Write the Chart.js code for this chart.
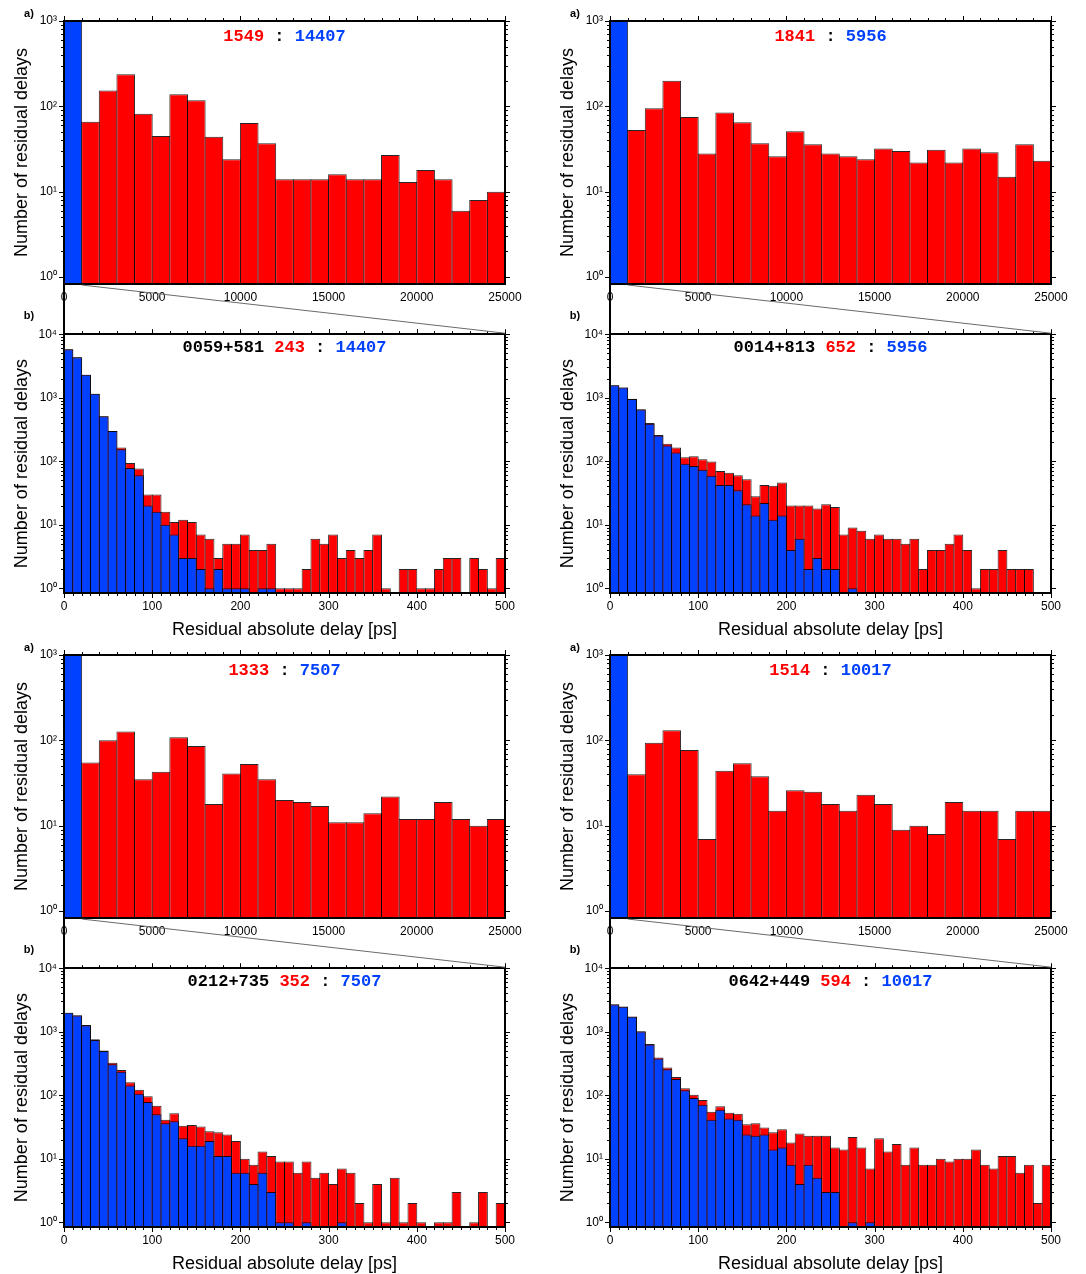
<!DOCTYPE html>
<html>
<head>
<meta charset="utf-8">
<script src="https://cdn.jsdelivr.net/npm/chart.js@4.4.1/dist/chart.umd.min.js"></script>
<style>
  html, body { margin: 0; padding: 0; background: #fff; }
  #page { position: relative; width: 1086px; height: 1274px; overflow: hidden; background: #fff; }
  #page canvas { position: absolute; }
</style>
</head>
<body>
<div id="page"></div>
<script>
// ---------------- data ----------------
const sourceNames   = ['0059+581', '0014+813', '0212+735', '0642+449'];
const outliersWide  = [1549, 1841, 1333, 1514];   // red total, full range
const outliersZoom  = [243, 652, 352, 594];       // red total, 0-500 ps
const goodDelays    = [14407, 5956, 7507, 10017]; // blue total

// bin centres [ps]
const wideBinCentres = [500, 1500, 2500, 3500, 4500, 5500, 6500, 7500, 8500, 9500,
  10500, 11500, 12500, 13500, 14500, 15500, 16500, 17500, 18500, 19500,
  20500, 21500, 22500, 23500, 24500];
const zoomBinCentres = [5, 15, 25, 35, 45, 55, 65, 75, 85, 95,
  105, 115, 125, 135, 145, 155, 165, 175, 185, 195,
  205, 215, 225, 235, 245, 255, 265, 275, 285, 295,
  305, 315, 325, 335, 345, 355, 365, 375, 385, 395,
  405, 415, 425, 435, 445, 455, 465, 475, 485, 495];

// tick labels
const wideTickLabels   = [0, 5000, 10000, 15000, 20000, 25000];
const zoomTickLabels   = [0, 100, 200, 300, 400, 500];
const wideCountDecades = [1, 10, 100, 1000];
const zoomCountDecades = [1, 10, 100, 1000, 10000];
const firstWideBinEdge = 1000;

// 0059+581
const wideAll_0059  = [null, 66, 153, 238, 82, 45, 139, 118, 44, 24, 64, 37, 14, 14, 14, 16, 14, 14, 27, 13, 18, 14, 6, 8, 10];
const wideGood_0059 = [14407];
const zoomAll_0059  = [5790, 4350, 2290, 1150, 512, 300, 164, 94, 77, 30,
  30, 16, 11, 12, 11, 7, 6, 3, 5, 5,
  7, 4, 4, 5, 1, 1, 1, 2, 6, 5,
  7, 3, 4, 3, 4, 7, 1, null, 2, 2,
  1, 1, 2, 3, 3, null, 3, 2, 1, 3];
const zoomGood_0059 = [5790, 4350, 2290, 1150, 512, 300, 154, 78, 60, 20,
  16, 10, 7, 3, 3, 2, 1, 2, 1, 1,
  1, null, 1, 1];

// 0014+813
const wideAll_0014  = [null, 53, 95, 200, 75, 28, 85, 65, 37, 26, 51, 36, 28, 26, 24, 32, 30, 22, 31, 22, 32, 29, 15, 36, 23];
const wideGood_0014 = [5956];
const zoomAll_0014  = [1575, 1450, 960, 660, 400, 258, 189, 164, 115, 120,
  107, 99, 70, 66, 60, 52, 28, 42, 41, 46,
  20, 20, 20, 18, 21, 19, 7, 9, 8, 6,
  7, 6, 6, 5, 6, 2, 4, 4, 5, 7,
  4, 1, 2, 2, 4, 2, 2, 2, null, null];
const zoomGood_0014 = [1567, 1442, 951, 650, 390, 254, 176, 137, 91, 84,
  73, 59, 42, 42, 35, 21, 14, 22, 12, 14,
  4, 6, 2, 3, 2, 2, null, 1];

// 0212+735
const wideAll_0212  = [null, 55, 100, 127, 35, 43, 109, 86, 18, 41, 53, 35, 20, 19, 17, 11, 11, 14, 22, 12, 12, 19, 12, 10, 12];
const wideGood_0212 = [7507];
const zoomAll_0212  = [1990, 1820, 1280, 760, 505, 324, 250, 160, 122, 96,
  68, 41, 52, 33, 34, 32, 27, 26, 24, 19,
  10, 8, 13, 11, 9, 9, 6, 9, 5, 6,
  4, 7, 6, 2, 1, 4, 1, 5, 1, 2,
  1, null, 1, 1, 3, null, 1, 3, null, 2];
const zoomGood_0212 = [1980, 1800, 1262, 741, 496, 306, 233, 142, 105, 78,
  50, 36, 39, 21, 16, 16, 19, 11, 11, 6,
  6, 4, 6, 3, 1, 1, null, 1, null, null,
  null, 1];

// 0642+449
const wideAll_0642  = [null, 40, 94, 131, 77, 7, 44, 54, 38, 15, 26, 25, 18, 15, 23, 18, 9, 10, 8, 19, 15, 15, 7, 15, 15];
const wideGood_0642 = [10017];
const zoomAll_0642  = [2700, 2500, 1730, 1020, 640, 392, 272, 193, 129, 102,
  84, 55, 67, 53, 51, 35, 36, 31, 26, 29,
  18, 25, 23, 23, 23, 15, 14, 22, 15, 7,
  21, 13, 17, 8, 15, 8, 8, 10, 9, 10,
  10, 14, 8, 7, 11, 11, 6, 8, 2, 8];
const zoomGood_0642 = [2690, 2480, 1718, 1009, 628, 378, 256, 180, 120, 90,
  71, 41, 59, 43, 41, 24, 23, 24, 14, 15,
  8, 4, 8, 5, 3, 3, null, 1, null, 1];

const wideAll  = [wideAll_0059, wideAll_0014, wideAll_0212, wideAll_0642];
const wideGood = [wideGood_0059, wideGood_0014, wideGood_0212, wideGood_0642];
const zoomAll  = [zoomAll_0059, zoomAll_0014, zoomAll_0212, zoomAll_0642];
const zoomGood = [zoomGood_0059, zoomGood_0014, zoomGood_0212, zoomGood_0642];

// ---------------- style ----------------
const RED = '#ff0000';
const BLUE = '#0040ff';
const SANS = '"Liberation Sans", Arial, Helvetica, sans-serif';
const MONO = '"Liberation Mono", "Courier New", monospace';
Chart.defaults.font.family = SANS;
Chart.defaults.color = '#000';

const SUP = { 0: '\u2070', 1: '\u00B9', 2: '\u00B2', 3: '\u00B3', 4: '\u2074' };
const decadeLabel = v => '10' + SUP[Math.round(Math.log10(v))];

// ---------------- plugins ----------------
// coloured headline centred above the bars
const headline = {
  id: 'headline',
  afterDatasetsDraw(chart, args, o) {
    const { ctx, chartArea: a } = chart;
    ctx.save();
    ctx.font = 'bold 17px ' + MONO;
    ctx.textBaseline = 'middle';
    ctx.textAlign = 'left';
    const total = o.parts.reduce((s, p) => s + ctx.measureText(p.text).width, 0);
    let x = (a.left + a.right) / 2 - total / 2;
    const y = a.top + o.offset;
    o.parts.forEach(p => {
      ctx.fillStyle = p.color;
      ctx.fillText(p.text, x, y);
      x += ctx.measureText(p.text).width;
    });
    ctx.restore();
  }
};

// outward tick marks on all four sides of the frame
const frameTicks = {
  id: 'frameTicks',
  afterDraw(chart, args, o) {
    const { ctx, chartArea: a, scales } = chart;
    const yPix = v => Math.round(scales.y.getPixelForValue(v)) + 0.5;
    const xPix = v => Math.round(scales.x.getPixelForValue(v)) + 0.5;
    ctx.save();
    ctx.strokeStyle = '#000';
    ctx.lineWidth = 1;
    ctx.beginPath();
    o.countTicks.forEach(t => {
      const py = yPix(t.value), len = t.major ? 4 : 2;
      ctx.moveTo(a.left - 1, py);  ctx.lineTo(a.left - 1 - len, py);
      ctx.moveTo(a.right + 1, py); ctx.lineTo(a.right + 1 + len, py);
    });
    o.topTicks.forEach(t => {
      const px = xPix(t.value), len = t.major ? 4 : 2;
      ctx.moveTo(px, a.top - 1); ctx.lineTo(px, a.top - 1 - len);
    });
    o.bottomTicks.forEach(t => {
      const px = xPix(t.value), len = t.major ? 4 : 2;
      ctx.moveTo(px, a.bottom + 1); ctx.lineTo(px, a.bottom + 1 + len);
    });
    ctx.stroke();
    ctx.restore();
  }
};

function countTickMarks(decades, max) {
  const out = [];
  decades.forEach(d => {
    out.push({ value: d, major: true });
    for (let k = 2; k <= 9; k++) if (k * d < max) out.push({ value: k * d, major: false });
  });
  return out;
}
function stepTickMarks(max, minor, major) {
  const out = [];
  for (let v = 0; v <= max + 1e-9; v += minor) out.push({ value: v, major: Math.abs(v / major - Math.round(v / major)) < 1e-9 });
  return out;
}

// ---------------- layout ----------------
const page = document.getElementById('page');
function addCanvas(left, top, w, h) {
  const c = document.createElement('canvas');
  c.width = w; c.height = h;
  Object.assign(c.style, { left: left + 'px', top: top + 'px', width: w + 'px', height: h + 'px' });
  page.appendChild(c);
  return c;
}

const columns = [{ left: 0, width: 543 }, { left: 546, width: 540 }];
const rowTops = [0, 634];
const PLOT_LEFT = 64, PLOT_RIGHT = 505;

function frameBorder() { return { display: true, color: '#000', width: 2, z: 1 }; }

function makePanel(kind, idx, col, top) {
  const wide = kind === 'wide';
  const h = wide ? 320 : 325;
  const topH = wide ? 21 : 10;
  const bottomH = wide ? 36 : 52;
  const xMax = wide ? 25000 : 500;
  const yMin = wide ? 0.83 : 0.84;
  const yMax = wide ? 1000 : 10000;
  const decades = wide ? wideCountDecades : zoomCountDecades;
  const tickLabels = wide ? wideTickLabels : zoomTickLabels;
  const centres = wide ? wideBinCentres : zoomBinCentres;
  const allVals = wide ? wideAll[idx] : zoomAll[idx];
  const goodVals = wide ? wideGood[idx] : zoomGood[idx];
  const binPx = (PLOT_RIGHT - PLOT_LEFT) / centres.length;
  const barPct = 1 + 1 / binPx;

  const canvas = addCanvas(col.left, top, col.width, h);
  const toPoints = vals => vals.map((v, i) => ({ x: centres[i], y: v }));

  const parts = wide
    ? [{ text: String(outliersWide[idx]), color: RED }, { text: ' : ', color: '#000' }, { text: String(goodDelays[idx]), color: BLUE }]
    : [{ text: sourceNames[idx] + ' ', color: '#000' }, { text: String(outliersZoom[idx]), color: RED },
       { text: ' : ', color: '#000' }, { text: String(goodDelays[idx]), color: BLUE }];

  const barStyle = {
    grouped: false, barPercentage: barPct, categoryPercentage: 1,
    borderColor: 'rgba(0,0,0,0.85)', borderWidth: { top: 1, left: 1, right: 1, bottom: 0 }, borderSkipped: 'bottom'
  };

  const chart = new Chart(canvas, {
    type: 'bar',
    data: {
      datasets: [
        Object.assign({ label: 'good', data: toPoints(goodVals), backgroundColor: BLUE, order: 0 }, barStyle),
        Object.assign({ label: 'all', data: toPoints(allVals), backgroundColor: RED, order: 1 }, barStyle)
      ]
    },
    options: {
      responsive: false, animation: false, devicePixelRatio: 1,
      layout: { padding: 0, autoPadding: false },
      plugins: {
        legend: { display: false }, tooltip: { enabled: false },
        headline: { parts, offset: wide ? 16 : 14 },
        frameTicks: {
          countTicks: countTickMarks(decades, yMax),
          topTicks: wide ? stepTickMarks(xMax, 1000, 5000) : stepTickMarks(xMax, 20, 100),
          bottomTicks: wide ? [] : stepTickMarks(xMax, 10, 100)
        }
      },
      scales: {
        x: {
          type: 'linear', position: 'bottom', min: 0, max: xMax, offset: false,
          grid: { display: false, drawTicks: false }, border: frameBorder(),
          ticks: { font: { size: 12 }, color: '#000', padding: 6, maxRotation: 0, minRotation: 0, autoSkip: false,
                   callback: v => String(v) },
          afterBuildTicks: s => { s.ticks = tickLabels.map(v => ({ value: v })); },
          afterFit: s => { s.height = bottomH; },
          title: { display: !wide, text: 'Residual absolute delay [ps]', color: '#000',
                   font: { size: 18 }, padding: { top: 0, bottom: 4 } }
        },
        x2: {
          type: 'linear', position: 'top', min: 0, max: xMax, offset: false,
          grid: { display: false, drawTicks: false }, border: frameBorder(),
          ticks: { display: false },
          afterFit: s => { s.height = topH; }
        },
        y: {
          type: 'logarithmic', position: 'left', min: yMin, max: yMax,
          grid: { display: false, drawTicks: false }, border: frameBorder(),
          ticks: { font: { size: 12 }, color: '#000', padding: 7, autoSkip: false, callback: v => decadeLabel(v) },
          afterBuildTicks: s => { s.ticks = decades.map(v => ({ value: v, major: true })); },
          afterFit: s => { s.width = PLOT_LEFT; },
          title: { display: true, text: 'Number of residual delays', color: '#000',
                   font: { size: 18 }, padding: { top: 11, bottom: 0 } }
        },
        y2: {
          type: 'logarithmic', position: 'right', min: yMin, max: yMax,
          grid: { display: false, drawTicks: false }, border: frameBorder(),
          ticks: { display: false },
          afterFit: s => { s.width = col.width - PLOT_RIGHT; }
        }
      }
    },
    plugins: [headline, frameTicks]
  });
  return { chart, left: col.left, top };
}

const pairs = [];
[[0, 0, 0], [1, 1, 0], [2, 0, 1], [3, 1, 1]].forEach(([idx, c, r]) => {
  const col = columns[c];
  const a = makePanel('wide', idx, col, rowTops[r]);
  const b = makePanel('zoom', idx, col, rowTops[r] + 320);
  pairs.push({ a, b });
});

// ---------------- zoom connectors and panel letters ----------------
const overlay = addCanvas(0, 0, 1086, 1274);
overlay.style.pointerEvents = 'none';
const octx = overlay.getContext('2d');
pairs.forEach(({ a, b }) => {
  const A = a.chart, B = b.chart;
  const aBottom = a.top + A.chartArea.bottom + 1;
  const bTop = b.top + B.chartArea.top - 1;
  // left edge continues between the two frames
  octx.strokeStyle = '#000';
  octx.lineWidth = 2;
  octx.beginPath();
  octx.moveTo(a.left + A.scales.x.getPixelForValue(0), aBottom);
  octx.lineTo(b.left + B.scales.x.getPixelForValue(0), bTop);
  octx.stroke();
  // slanted connector to the end of the zoomed range
  octx.strokeStyle = '#6a6a6a';
  octx.lineWidth = 1;
  octx.beginPath();
  octx.moveTo(a.left + A.scales.x.getPixelForValue(firstWideBinEdge), aBottom);
  octx.lineTo(b.left + B.scales.x.getPixelForValue(B.scales.x.max), bTop);
  octx.stroke();
  // panel letters
  octx.fillStyle = '#000';
  octx.font = 'bold 11px ' + SANS;
  octx.textAlign = 'center';
  octx.textBaseline = 'middle';
  octx.fillText('a)', a.left + A.chartArea.left - 35, a.top + A.chartArea.top - 7.5);
  octx.fillText('b)', b.left + B.chartArea.left - 35, b.top + B.chartArea.top - 18);
});
</script>
</body>
</html>
